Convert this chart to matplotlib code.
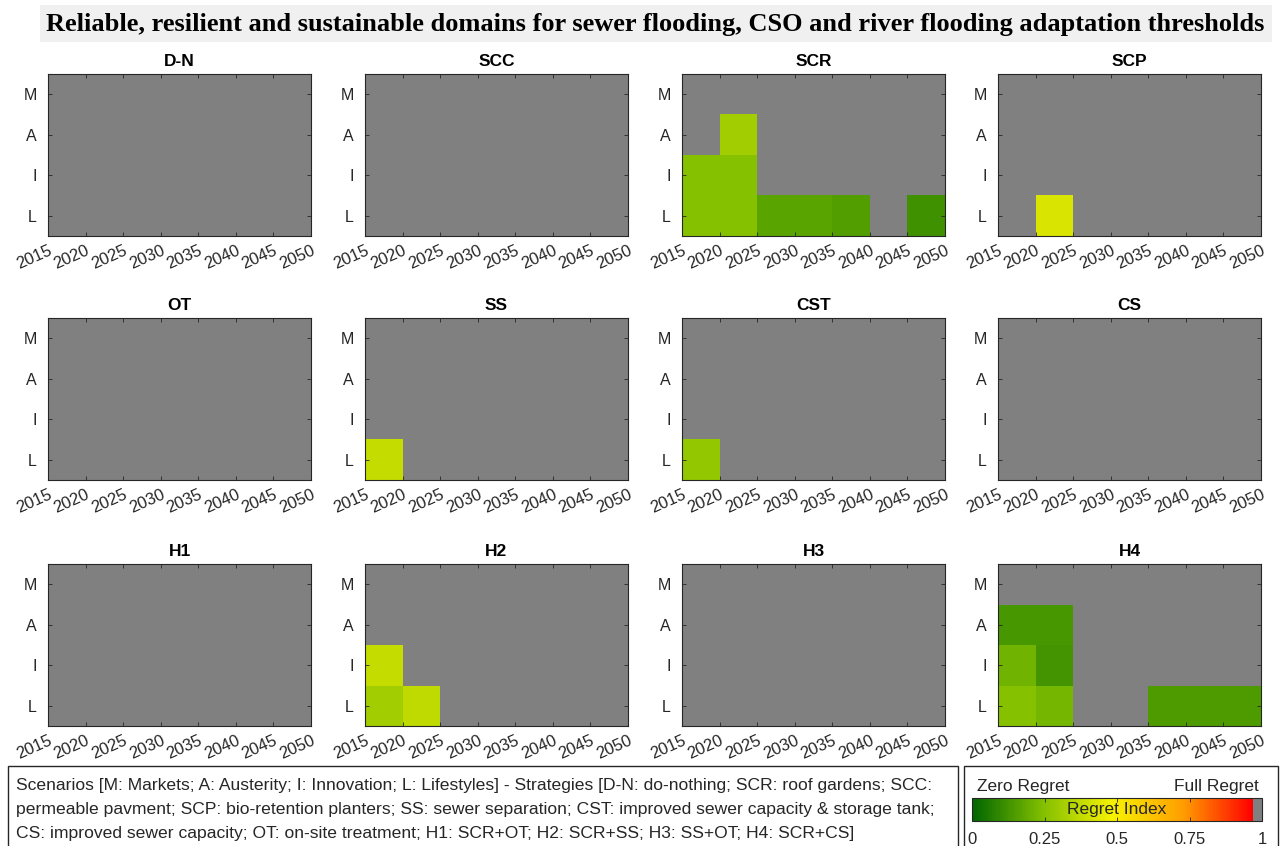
import numpy as np
import matplotlib
matplotlib.use('Agg')
import matplotlib.pyplot as plt
from matplotlib.colors import LinearSegmentedColormap, ListedColormap, Normalize
from matplotlib.patches import Rectangle
import matplotlib.cm as cm

plt.rcParams['font.family'] = ['Liberation Sans', 'DejaVu Sans']

years = [2015, 2020, 2025, 2030, 2035, 2040, 2045, 2050]
scenarios = ['L', 'I', 'A', 'M']
strategies = ['D-N', 'SCC', 'SCR', 'SCP', 'OT', 'SS', 'CST', 'CS', 'H1', 'H2', 'H3', 'H4']

n = np.nan
# regret index, rows = L, I, A, M ; columns = 5-year periods 2015-2050 (nan = not acceptable)
none = [[n] * 7 for _ in range(4)]
d_n = none
scc = none
scr = [[0.25, 0.25, 0.17, 0.17, 0.155, n, 0.12],
       [0.25, 0.25, n, n, n, n, n],
       [n, 0.31, n, n, n, n, n],
       [n, n, n, n, n, n, n]]
scp = [[n, 0.42, n, n, n, n, n],
       [n, n, n, n, n, n, n],
       [n, n, n, n, n, n, n],
       [n, n, n, n, n, n, n]]
ot = none
ss = [[0.38, n, n, n, n, n, n],
      [n, n, n, n, n, n, n],
      [n, n, n, n, n, n, n],
      [n, n, n, n, n, n, n]]
cst = [[0.28, n, n, n, n, n, n],
       [n, n, n, n, n, n, n],
       [n, n, n, n, n, n, n],
       [n, n, n, n, n, n, n]]
cs = none
h1 = none
h2 = [[0.31, 0.37, n, n, n, n, n],
      [0.38, n, n, n, n, n, n],
      [n, n, n, n, n, n, n],
      [n, n, n, n, n, n, n]]
h3 = none
h4 = [[0.25, 0.22, n, n, 0.145, 0.145, 0.145],
      [0.21, 0.125, n, n, n, n, n],
      [0.135, 0.135, n, n, n, n, n],
      [n, n, n, n, n, n, n]]
regret = [d_n, scc, scr, scp, ot, ss, cst, cs, h1, h2, h3, h4]

legend_lines = [
    'Scenarios [M: Markets; A: Austerity; I: Innovation; L: Lifestyles] - Strategies [D-N: do-nothing; SCR: roof gardens; SCC:',
    'permeable pavment; SCP: bio-retention planters; SS: sewer separation; CST: improved sewer capacity & storage tank;',
    'CS: improved sewer capacity; OT: on-site treatment; H1: SCR+OT; H2: SCR+SS; H3: SS+OT; H4: SCR+CS]',
]

grey = (0.5, 0.5, 0.5)
dark = (0.15, 0.15, 0.15)

# green -> yellow -> red, last few percent grey for "no solution"
gyr = LinearSegmentedColormap.from_list('gyr', [(0.0, (0.0, 0.40, 0.0)),
                                                (0.25, (0.51, 0.75, 0.0)),
                                                (0.5, (0.97, 0.95, 0.0)),
                                                (0.75, (1.0, 0.62, 0.0)),
                                                (1.0, (1.0, 0.0, 0.0))])
v = np.linspace(0, 1, 512)
cols = gyr(np.clip(v / 0.97, 0, 1))
cols[v > 0.97] = (*grey, 1.0)
cmap = ListedColormap(cols)
norm = Normalize(vmin=0, vmax=1)

W, H = 1281, 846
fig = plt.figure(figsize=(W / 100, H / 100), dpi=100)

def fbox(x0, y0, w, h):
    # pixel box (top-left origin) -> figure fraction
    return [x0 / W, 1 - (y0 + h) / H, w / W, h / H]

# title band
fig.patches.append(Rectangle((40 / W, 1 - 42 / H), 1232 / W, 37 / H, transform=fig.transFigure,
                             facecolor=(0.94, 0.94, 0.94), edgecolor='none', zorder=-2))
fig.text(655 / W, 1 - 24 / H,
         'Reliable, resilient and sustainable domains for sewer flooding, CSO and river flooding adaptation thresholds',
         family='Liberation Serif', weight='bold', fontsize=19, ha='center', va='center')

lefts = [48, 365, 682, 998]
tops = [74, 318, 564]
for k, name in enumerate(strategies):
    r, c = divmod(k, 4)
    ax = fig.add_axes(fbox(lefts[c], tops[r], 263, 162))
    ax.set_facecolor(grey)
    z = np.ma.masked_invalid(np.array(regret[k], dtype=float))
    ax.pcolormesh(years, np.arange(0.5, 5.0, 1.0), z, cmap=cmap, norm=norm)
    ax.set_xlim(2015, 2050)
    ax.set_ylim(0.5, 4.5)
    ax.set_xticks(years)
    ax.set_xticklabels([str(y) for y in years], rotation=24, ha='right', rotation_mode='anchor')
    ax.set_yticks([1, 2, 3, 4])
    ax.set_yticklabels(scenarios)
    ax.tick_params(direction='in', top=True, right=True, length=3, width=0.6, color=dark,
                   labelcolor=dark, labelsize=12)
    ax.tick_params(axis='x', pad=5)
    ax.tick_params(axis='y', pad=8, labelsize=11.5)
    for s in ax.spines.values():
        s.set_color(dark)
        s.set_linewidth(0.8)
    ax.set_title(name, fontsize=12.5, weight='bold', pad=6)

# description box
fig.patches.append(Rectangle((8 / W, 1 - 850 / H), 950 / W, 84 / H, transform=fig.transFigure,
                             facecolor='white', edgecolor=dark, linewidth=1.0, zorder=-1))
for i, line in enumerate(legend_lines):
    fig.text(16 / W, 1 - (785 + 24 * i) / H, line, fontsize=12.6, color=dark, ha='left', va='center')

# colour key box
fig.patches.append(Rectangle((964 / W, 1 - 850 / H), 314 / W, 84 / H, transform=fig.transFigure,
                             facecolor='white', edgecolor=dark, linewidth=1.0, zorder=-1))
cax = fig.add_axes(fbox(972, 798, 290, 23))
cb = fig.colorbar(cm.ScalarMappable(norm=norm, cmap=cmap), cax=cax, orientation='horizontal',
                  ticks=[0, 0.25, 0.5, 0.75, 1])
cb.ax.set_xticklabels(['0', '0.25', '0.5', '0.75', '1'])
cb.ax.tick_params(direction='in', top=True, length=3, width=0.6, color=dark, labelcolor=dark,
                  labelsize=12, pad=8)
cb.outline.set_edgecolor(dark)
cb.outline.set_linewidth(0.8)
cax.text(0.5, 0.5, 'Regret Index', transform=cax.transAxes, ha='center', va='center',
         fontsize=12.5, color=dark)
fig.text(977 / W, 1 - 786 / H, 'Zero Regret', fontsize=12.5, color=dark, ha='left', va='center')
fig.text(1259 / W, 1 - 786 / H, 'Full Regret', fontsize=12.5, color=dark, ha='right', va='center')

fig.savefig('out.png', dpi=100)
